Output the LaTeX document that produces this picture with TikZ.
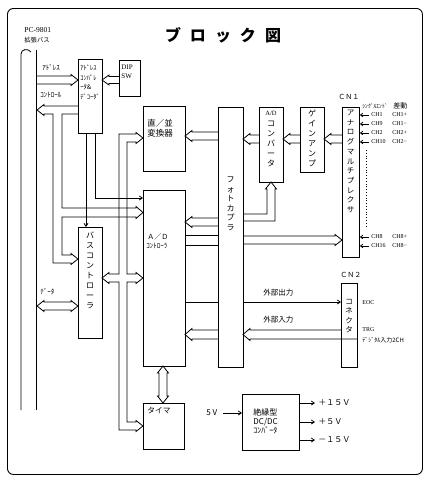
\documentclass[tikz,border=0pt]{standalone}
\usepackage{fontspec}
\setmainfont{Noto Sans CJK JP}
\newfontfamily\lat{Liberation Serif}
\usetikzlibrary{arrows.meta}
\newcommand\fsz[1]{\fontsize{#1}{#1}\selectfont}
% horizontal bus arrow: tail x, tip x, centre y (optional half width)
\newcommand\busH[4][4]{%
  \pgfmathsetmacro\busdir{(#3-#2)/abs(#3-#2)}%
  \draw[bus] (#2,#4-#1) -- ({#3-7*\busdir},#4-#1) -- ({#3-7*\busdir},#4-#1-1.5) -- (#3,#4) -- ({#3-7*\busdir},#4+#1+1.5) -- ({#3-7*\busdir},#4+#1) -- (#2,#4+#1);}
% horizontal double-headed bus arrow: left tip, right tip, centre y
\newcommand\busHH[4][4]{%
  \draw[bus] (#2,#4) -- (#2+7,#4-#1-1.5) -- (#2+7,#4-#1) -- (#3-7,#4-#1) -- (#3-7,#4-#1-1.5) -- (#3,#4) -- (#3-7,#4+#1+1.5) -- (#3-7,#4+#1) -- (#2+7,#4+#1) -- (#2+7,#4+#1+1.5) -- cycle;}
\begin{document}
\begin{tikzpicture}[x=1pt,y=-1pt,line width=0.8pt,
  blk/.style={draw,inner sep=0pt,anchor=north west},
  bus/.style={line width=0.8pt,line join=miter},
  sig/.style={-{Straight Barb[length=3pt,width=4pt]}},
  lbl/.style={inner sep=0pt,anchor=west},
  vt/.style={inner sep=0pt,align=center},
  ml/.style={inner sep=0pt,anchor=north west,align=left}]
\useasboundingbox (0,0) rectangle (433,485);
\node[draw,rounded corners=6pt,line width=0.9pt,minimum width=415pt,minimum height=466pt,anchor=north west,inner sep=0pt] (frame) at (7,8) {};
% title
\node[inner sep=0pt] (title) at (223,35) {\fsz{16}\bfseries ブ\hspace{9pt}ロ\hspace{9pt}ッ\hspace{9pt}ク\hspace{9pt}図};
% expansion bus
\node[lbl] (pc) at (24,30) {\lat\fsz{7.5}PC-9801};
\node[lbl] (exb) at (24,40) {\fsz{6.3}拡張バス};
\draw (21,410) -- (21,54) .. controls (21,49) and (28,48) .. (31,52);
\draw (36,50) -- (36,410);
% boxes
\node[blk,minimum width=24pt,minimum height=74pt] (addr) at (78,59) {};
\node[blk,minimum width=21pt,minimum height=36pt] (dip) at (119,60) {};
\node[blk,minimum width=42pt,minimum height=65pt] (sp) at (143,106) {};
\node[blk,minimum width=42pt,minimum height=176pt] (adc) at (143,190) {};
\node[blk,minimum width=24pt,minimum height=111pt] (busc) at (78,227) {};
\node[blk,minimum width=41pt,minimum height=46pt] (timer) at (143,403) {};
\node[blk,minimum width=25pt,minimum height=260pt] (photo) at (218,107) {};
\node[blk,minimum width=24pt,minimum height=75pt] (adconv) at (259,107) {};
\node[blk,minimum width=24pt,minimum height=65pt] (gain) at (300,107) {};
\node[blk,minimum width=17pt,minimum height=150pt] (mux) at (342,107) {};
\node[blk,minimum width=16pt,minimum height=84pt] (conn) at (341,283) {};
\node[blk,minimum width=57pt,minimum height=56pt] (dcdc) at (242,394) {};
% box texts
\node[ml,font=\fontsize{6.5}{9.6}\selectfont] (addrT) at (80,64.5) {ｱﾄﾞﾚｽ\\ｺﾝﾊﾟﾚ\\ｰﾀ\&\\ﾃﾞｺｰﾀﾞ};
\node[ml,font=\lat\fontsize{7}{9.5}\selectfont] (dipT) at (121,64.5) {DIP\\SW};
\node[lbl] (spT1) at (147,123) {\fsz{8.5}直／並};
\node[lbl] (spT2) at (147,133) {\fsz{8.5}変換器};
\node[lbl] (adcT1) at (147,237) {\fsz{7}Ａ／Ｄ};
\node[lbl] (adcT2) at (146,246) {\fsz{7}ｺﾝﾄﾛｰﾗ};
\node[vt,font=\fontsize{8}{10}\selectfont] (buscT) at (90,270) {バ\\ス\\コ\\ン\\ト\\ロ\\ー\\ラ};
\node[lbl] (timerT) at (147,411) {\fsz{7.7}タイマ};
\node[vt,font=\fontsize{8}{9.5}\selectfont] (photoT) at (230.5,204) {フ\\ォ\\ト\\カ\\プ\\ラ};
\node[inner sep=0pt] (adconvT1) at (271,113) {\lat\fsz{6.5}A/D};
\node[vt,font=\fontsize{8}{10}\selectfont] (adconvT2) at (271,144) {コ\\ン\\バ\\ー\\タ};
\node[vt,font=\fontsize{8}{10}\selectfont] (gainT) at (312,138) {ゲ\\イ\\ン\\ア\\ン\\プ};
\node[vt,font=\fontsize{7.5}{9.7}\selectfont] (muxT) at (350.5,161.5) {ア\\ナ\\ロ\\グ\\マ\\ル\\チ\\プ\\レ\\ク\\サ};
\node[vt,font=\fontsize{7.5}{9.3}\selectfont] (connT) at (349,316) {コ\\ネ\\ク\\タ};
\node[ml,font=\fontsize{8}{9}\selectfont] (dcdcT) at (253,408.5) {絶縁型\\DC/DC\\ｺﾝﾊﾞｰﾀ};
% labels on the left
\node[lbl] (la) at (42,68) {\fsz{7}ｱﾄﾞﾚｽ};
\node[lbl] (lc) at (40,95) {\fsz{7}ｺﾝﾄﾛｰﾙ};
\node[lbl] (ld) at (40,292) {\fsz{7}ﾃﾞｰﾀ};
% address bus and DIP SW
\busH{36}{78}{80}
\busH[3.5]{119}{102}{80}
% control bus with branches
\draw[bus] (78,106) -- (44,106) -- (44,104.5) -- (37,110) -- (44,115.5) -- (44,114) -- (53,114) -- (53,263) -- (71,263) -- (71,264.5) -- (78,259) -- (71,253.5) -- (71,255) -- (62,255) -- (62,217) -- (136,217) -- (136,218.5) -- (143,212.5) -- (136,206.5) -- (136,208) -- (62,208) -- (62,114) -- (78,114);
% data
\busHH{37}{78}{306}
% decoder outputs
\draw[sig] (95,133) |- (143,198);
\draw[sig] (86,133) -- (86,227);
% internal data bus
\draw[bus] (136,132.5) -- (143,138) -- (136,143.5) -- (136,142) -- (127,142) -- (127,274) -- (136,274) -- (136,272.5) -- (143,278) -- (136,283.5) -- (136,282) -- (127,282) -- (127,422) -- (136,422) -- (136,420.5) -- (143,426) -- (136,431.5) -- (136,430) -- (119,430) -- (119,282) -- (109,282) -- (109,283.5) -- (102,278) -- (109,272.5) -- (109,274) -- (119,274) -- (119,134) -- (136,134) -- cycle;
% A/D controller - timer
\draw[bus] (163,366) -- (168.5,373) -- (167,373) -- (167,396) -- (168.5,396) -- (163,403) -- (157.5,396) -- (159,396) -- (159,373) -- (157.5,373) -- cycle;
% between A/D controller and photocoupler
\busH{218}{185}{136}
\busH{218}{185}{222}
\draw (185,235) -- (218,235);
\draw (185,245) -- (218,245);
\draw (185,302) -- (218,302);
\busH[4.5]{218}{185}{334.5}
% right of photocoupler
\busH{259}{243}{139}
\busH{300}{283}{139}
\busH{342}{324}{139}
\draw[bus] (243,214) -- (267,214) -- (267,189) -- (265.5,189) -- (271,182) -- (276.5,189) -- (275,189) -- (275,221) -- (243,221);
\busH{243}{342}{240}
\draw[sig] (243,302) -- (341,302);
\draw[bus] (357,339) -- (250,339) -- (250,340.5) -- (243,334.5) -- (250,328.5) -- (250,330) -- (341,330);
\node[lbl] (lout) at (263,293) {\fsz{7.5}外部出力};
\node[lbl] (lin) at (263,320) {\fsz{7.5}外部入力};
% CN1
\node[lbl] (cn1) at (338,97) {\fsz{7}ＣＮ１};
\node[lbl] (se) at (362,106) {\fsz{5.6}ｼﾝｸﾞﾙｴﾝﾄﾞ};
\node[lbl] (diff) at (393,106) {\fsz{7}差動};
\foreach \yy/\a/\b in {115/CH1/CH1+,124/CH9/CH1−,133/CH2/CH2+,142/CH10/CH2−,237/CH8/CH8+,246/CH16/CH8−}{
  \coordinate (t\yy) at (369,\yy);
  \draw[-{Straight Barb[length=2.5pt,width=3.5pt]}] (t\yy) -- (mux.east |- t\yy);
  \node[lbl] at (371,\yy) {\lat\fsz{6}\a};
  \node[lbl] at (392,\yy) {\lat\fsz{6}\b};
}
\draw[dotted] (366,150) -- (366,227);
% CN2
\node[lbl] (cn2) at (340,275) {\fsz{7}ＣＮ２};
\node[lbl] (eoc) at (362,303) {\lat\fsz{6}EOC};
\node[lbl] (trg) at (362,330) {\lat\fsz{6}TRG};
\node[lbl] (din) at (362,340) {\fsz{6}ﾃﾞｼﾞﾀﾙ入力2CH};
% power
\node[lbl] (v5) at (206,413) {\fsz{8}5 V};
\draw[sig] (v5.east) ++(5,0) -- (dcdc.west |- v5);
\coordinate (o1) at (315,403);
\coordinate (o2) at (315,422);
\coordinate (o3) at (315,440);
\draw[sig] (dcdc.east |- o1) -- (o1);
\draw[sig] (dcdc.east |- o2) -- (o2);
\draw[sig] (dcdc.east |- o3) -- (o3);
\node[lbl] (p15) at (318,403) {\fsz{8}＋１５Ｖ};
\node[lbl] (p5) at (318,422) {\fsz{8}＋５Ｖ};
\node[lbl] (m15) at (318,440) {\fsz{8}－１５Ｖ};
\end{tikzpicture}
\end{document}
